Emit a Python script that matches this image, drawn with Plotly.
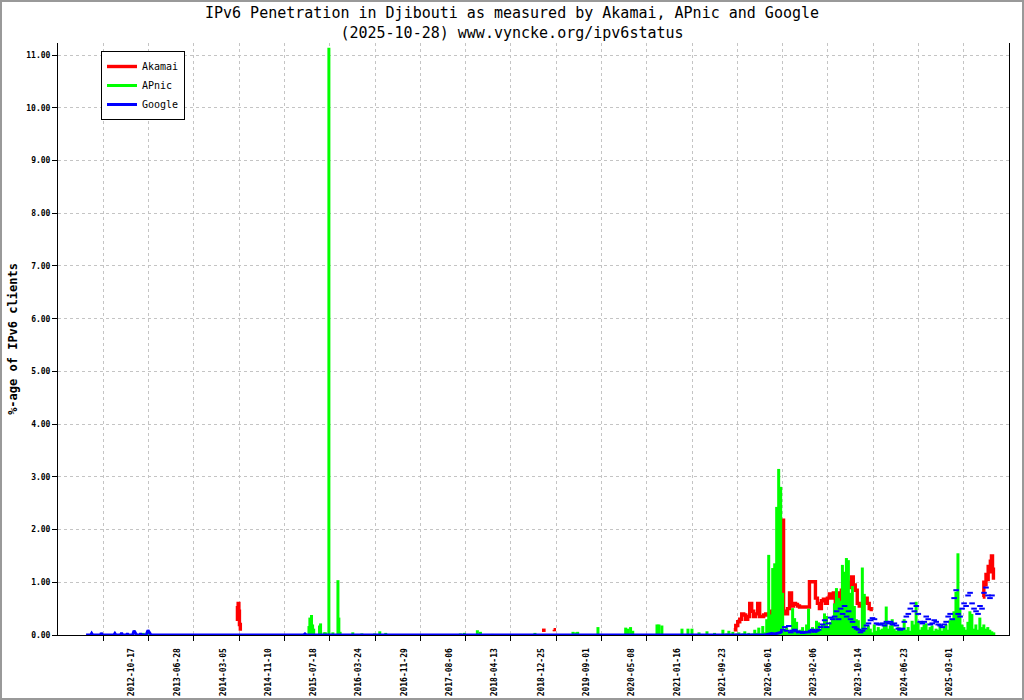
import pandas as pd
import plotly.graph_objects as go

# ---------------- text ----------------
title_line1 = "IPv6 Penetration in Djibouti as measured by Akamai, APnic and Google"
title_line2 = "(2025-10-28) www.vyncke.org/ipv6status"
y_title = "%-age of IPv6 clients"

tick_labels = ["2012-10-17", "2013-06-28", "2014-03-05", "2014-11-10", "2015-07-18",
               "2016-03-24", "2016-11-29", "2017-08-06", "2018-04-13", "2018-12-25",
               "2019-09-01", "2020-05-08", "2021-01-16", "2021-09-23", "2022-06-01",
               "2023-02-06", "2023-10-14", "2024-06-23", "2025-03-01"]

# ---------------- Akamai ----------------
akamai_2014_dates = ["2014-05-20", "2014-05-24", "2014-05-28", "2014-06-01", "2014-06-04", "2014-06-09"]
akamai_2014_values = [0.55, 0.30, 0.60, 0.45, 0.20, 0.08]
akamai_2019a_dates = ["2018-12-31", "2019-01-20"]
akamai_2019a_values = [0.09, 0.09]
akamai_2019b_dates = ["2019-03-05", "2019-03-09"]
akamai_2019b_values = [0.10, 0.07]
akamai_main_start = "2021-11-24"   # sampled every 11 days
akamai_main_values = [0.10, 0.18, 0.25, 0.30, 0.40, 0.38, 0.30, 0.35, 0.60, 0.45,
                      0.35, 0.40, 0.60, 0.35, 0.35, 0.38, 0.40, 0.38, 0.45, 0.40,
                      0.50, 0.45, 0.45, 0.50, 2.18, 0.45, 0.40, 0.50, 0.80, 0.55,
                      0.60, 0.58, 0.55, 0.53, 0.53, 0.53, 0.53, 0.53, 1.01, 1.01,
                      1.01, 0.70, 0.60, 0.50, 0.65, 0.68, 0.60, 0.70, 0.78, 0.70,
                      0.80, 0.60, 0.55, 0.80, 0.85, 0.95, 0.85, 1.00, 0.90, 1.10,
                      0.95, 0.85, 0.60, 0.55, 0.55, 0.62, 0.70, 0.60, 0.50, 0.45]
akamai_end_dates = ["2025-08-30", "2025-09-05", "2025-09-11", "2025-09-17", "2025-09-23",
                    "2025-09-29", "2025-10-05", "2025-10-11", "2025-10-17", "2025-10-23",
                    "2025-10-28"]
akamai_end_values = [0.72, 1.00, 0.95, 1.15, 1.05, 1.30, 1.20, 1.40, 1.50, 1.25, 1.05]

# ---------------- APnic ----------------
apnic_spike_dates = ["2012-09-10", "2012-12-20", "2013-01-12", "2015-06-05", "2015-06-23",
                     "2015-06-28", "2015-07-07", "2015-07-13", "2015-07-19", "2015-08-20",
                     "2015-08-26", "2015-09-15", "2015-09-22", "2015-10-11", "2015-11-02",
                     "2015-11-30", "2015-12-05", "2015-12-12", "2016-02-20", "2016-04-10",
                     "2016-06-20", "2016-07-18", "2016-08-20", "2017-10-06", "2017-10-28",
                     "2018-01-08", "2018-01-25", "2018-03-31", "2018-11-22", "2019-06-20",
                     "2019-07-05", "2019-07-16", "2019-11-05", "2020-04-06", "2020-04-17",
                     "2020-05-03", "2020-05-15", "2020-09-26", "2020-10-07", "2020-10-23",
                     "2021-02-11", "2021-03-16", "2021-04-07", "2021-05-16", "2021-06-29",
                     "2021-08-10"]
apnic_spike_values = [0.02, 0.04, 0.05, 0.02, 0.17,
                      0.33, 0.38, 0.20, 0.12, 0.18,
                      0.22, 0.05, 0.05, 11.14, 0.05,
                      1.04, 0.33, 0.06, 0.05, 0.03,
                      0.03, 0.07, 0.04, 0.03, 0.04,
                      0.09, 0.06, 0.02, 0.04, 0.06,
                      0.05, 0.06, 0.15, 0.14, 0.12,
                      0.15, 0.08, 0.20, 0.20, 0.18,
                      0.12, 0.12, 0.12, 0.05, 0.07,
                      0.04]
apnic_recent_start = "2021-09-25"   # sampled every 11 days
apnic_recent_values = [0.10, 0.02, 0.03, 0.08, 0.02, 0.06, 0.02, 0.03, 0.05, 0.02,
                       0.03, 0.07, 0.02, 0.04, 0.02, 0.03, 0.10, 0.04, 0.14, 0.03,
                       0.17, 0.05, 0.30, 1.52, 0.39, 1.27, 1.36, 2.43, 3.15, 2.81,
                       0.80, 0.10, 0.14, 0.05, 0.10, 0.51, 0.32, 0.25, 0.05, 0.10,
                       0.15, 0.08, 0.20, 0.50, 0.10, 0.15, 0.05, 0.27, 0.24, 0.10,
                       0.20, 0.41, 0.36, 0.15, 0.25, 0.30, 0.60, 0.89, 0.70, 0.65,
                       1.33, 1.20, 1.46, 1.42, 0.80, 0.93, 0.55, 0.30, 0.28, 0.10,
                       1.28, 0.78, 0.10, 0.18, 0.12, 0.05, 0.20, 0.08, 0.15, 0.10,
                       0.12, 0.20, 0.54, 0.12, 0.18, 0.30, 0.12, 0.08, 0.15, 0.10,
                       0.12, 0.30, 0.10, 0.15, 0.08, 0.27, 0.20, 0.63, 0.25, 0.10,
                       0.15, 0.20, 0.22, 0.10, 0.15, 0.18, 0.08, 0.12, 0.10, 0.20,
                       0.08, 0.15, 0.20, 0.10, 0.28, 0.30, 0.45, 0.82, 1.55, 0.50,
                       0.20, 0.15, 0.10, 0.25, 0.45, 0.40, 0.12, 0.20, 0.10, 0.33,
                       0.15, 0.20, 0.12, 0.15, 0.10, 0.07, 0.05]

# ---------------- Google ----------------
google_dates = ["2012-02-08", "2012-03-05", "2012-03-10", "2012-03-16", "2012-04-28",
                "2012-05-02", "2012-05-08", "2012-07-10", "2012-07-16", "2012-07-22",
                "2012-08-16", "2012-08-22", "2012-08-28", "2012-09-18", "2012-09-23",
                "2012-09-28", "2012-10-22", "2012-10-30", "2012-11-06", "2012-11-14",
                "2012-11-30", "2012-12-05", "2012-12-10", "2013-01-05", "2013-01-15",
                "2013-01-22", "2013-02-01", "2015-05-25", "2015-06-01", "2015-06-08",
                "2022-05-15", "2022-06-20", "2022-07-10", "2022-08-10", "2022-08-20"]
google_values = [0, 0, 0.03, 0, 0,
                 0.04, 0, 0, 0.03, 0,
                 0, 0.04, 0, 0, 0.03,
                 0, 0, 0.08, 0.04, 0,
                 0, 0.03, 0, 0, 0.09,
                 0.05, 0, 0, 0.02, 0,
                 0, 0.03, 0.02, 0.05, 0.08]
google_recent_start = "2022-08-22"   # sampled every 11 days
google_recent_values = [0.10, 0.15, 0.08, 0.17, 0.05, 0.08, 0.10, 0.07, 0.05, 0.06,
                        0.04, 0.05, 0.06, 0.05, 0.08, 0.10, 0.06, 0.08, 0.10, 0.15,
                        0.20, 0.28, 0.15, 0.22, 0.33, 0.30, 0.35, 0.45, 0.30, 0.50,
                        0.40, 0.55, 0.35, 0.45, 0.30, 0.25, 0.15, 0.12, 0.10, 0.05,
                        0.08, 0.12, 0.18, 0.22, 0.28, 0.32, 0.30, 0.22, 0.20, 0.20,
                        0.22, 0.18, 0.25, 0.22, 0.25, 0.20, 0.22, 0.18, 0.12, 0.10,
                        0.12, 0.25, 0.35, 0.40, 0.50, 0.60, 0.45, 0.55, 0.40, 0.25,
                        0.22, 0.25, 0.35, 0.30, 0.20, 0.22, 0.28, 0.25, 0.20, 0.18,
                        0.15, 0.20, 0.25, 0.35, 0.40, 0.30, 0.70, 0.85, 0.40, 0.35,
                        0.50, 0.60, 0.55, 0.75, 0.80, 0.60, 0.50, 0.45, 0.40, 0.55,
                        0.50, 0.80, 0.90, 0.75, 0.70, 0.75]

# ---------------- build series ----------------
def regular(start, values, step="11D"):
    return list(pd.date_range(start, periods=len(values), freq=step)), list(values)

ak_x, ak_y = [], []
for dx, dy in [(akamai_2014_dates, akamai_2014_values),
               (akamai_2019a_dates, akamai_2019a_values),
               (akamai_2019b_dates, akamai_2019b_values),
               regular(akamai_main_start, akamai_main_values),
               (akamai_end_dates, akamai_end_values)]:
    ak_x += [pd.Timestamp(d) for d in dx] + [None]
    ak_y += list(dy) + [None]

# APnic drawn as impulses (vertical strokes from 0 to each value)
rx, ry = regular(apnic_recent_start, apnic_recent_values)
ap_x, ap_y = [], []
for t, v in list(zip([pd.Timestamp(d) for d in apnic_spike_dates], apnic_spike_values)) + list(zip(rx, ry)):
    ap_x += [t, t, None]
    ap_y += [0, v, None]

g_x = [pd.Timestamp(d) for d in google_dates]
g2_x, g2_y = regular(google_recent_start, google_recent_values)

# ---------------- axes geometry ----------------
x_start = pd.Timestamp("2011-09-06")
x_end = pd.Timestamp("2026-01-22")
grid_vals = [x_start + (x_end - x_start) * k / 21 for k in range(1, 21)]

mono = "DejaVu Sans Mono"

fig = go.Figure()
fig.add_trace(go.Scatter(x=ak_x, y=ak_y, name="Akamai", mode="lines",
                         line=dict(color="#ff0000", width=3.4, shape="hv"),
                         connectgaps=False))
fig.add_trace(go.Scatter(x=ap_x, y=ap_y, name="APnic", mode="lines",
                         line=dict(color="#00ff00", width=3), connectgaps=False))
fig.add_trace(go.Scatter(x=g_x, y=google_values, name="Google", mode="lines",
                         legendgroup="g", line=dict(color="#0000ff", width=3)))
fig.add_trace(go.Scatter(x=g2_x, y=g2_y, name="Google", mode="markers",
                         legendgroup="g", showlegend=False,
                         marker=dict(symbol="line-ew", size=4,
                                     line=dict(color="#0000ff", width=2))))

fig.update_layout(
    width=1024, height=700,
    paper_bgcolor="white", plot_bgcolor="white",
    margin=dict(l=58, r=15, t=43, b=65, autoexpand=False),
    title=dict(text=title_line1 + "<br>" + title_line2,
               x=0.5, xref="container", xanchor="center",
               y=1 - 18 / 700, yref="container", yanchor="top",
               font=dict(family=mono, size=15, color="black")),
    showlegend=True,
    legend=dict(x=(101 - 58) / 951, y=(635 - 51) / 592, xanchor="left", yanchor="top",
                bgcolor="white", bordercolor="black", borderwidth=1,
                font=dict(family=mono, size=10, color="black"),
                tracegroupgap=0, itemwidth=30),
    shapes=[dict(type="rect", xref="paper", yref="paper",
                 x0=-57 / 951, x1=(1023 - 58) / 951,
                 y0=-64 / 592, y1=(699 - 65) / 592,
                 line=dict(color="#999999", width=2), layer="below")],
)

fig.update_xaxes(
    type="date", range=[x_start, x_end], automargin=False,
    tickmode="array", tickvals=[pd.Timestamp(t) for t in tick_labels], ticktext=tick_labels,
    tickangle=-90, ticks="", showgrid=False, zeroline=False,
    showline=True, linecolor="black", linewidth=1,
    tickfont=dict(family=mono, size=8, color="black", weight="bold"),
    ticklabelstandoff=9,
    minor=dict(tickmode="array", tickvals=grid_vals, ticks="outside", ticklen=5,
               tickcolor="black", tickwidth=1, showgrid=True,
               gridcolor="#c4c4c4", griddash="dot", gridwidth=1),
)
fig.update_yaxes(
    range=[0, 11.23], tickmode="linear", tick0=0, dtick=1, tickformat=".2f",
    automargin=False,
    ticks="outside", ticklen=5, tickcolor="black",
    showgrid=True, gridcolor="#c4c4c4", griddash="dot", gridwidth=1,
    zeroline=False, showline=True, linecolor="black", linewidth=1, mirror=True,
    tickfont=dict(family=mono, size=8, color="black", weight="bold"),
    title=dict(text=y_title, standoff=6,
               font=dict(family=mono, size=12, color="black", weight="bold")),
)

fig.write_html("out.html", config={"displayModeBar": False},
               post_script="document.body.style.margin='0px';")
